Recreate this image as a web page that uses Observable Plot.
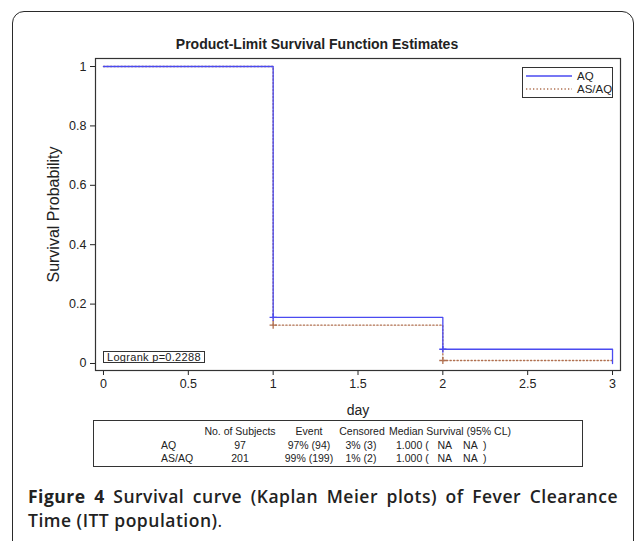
<!DOCTYPE html>
<html>
<head>
<meta charset="utf-8">
<script src="https://cdn.jsdelivr.net/npm/d3@7"></script>
<script src="https://cdn.jsdelivr.net/npm/@observablehq/plot@0.6"></script>
<style>
  html, body { margin: 0; padding: 0; background: #fff; }
  #page { position: relative; width: 634px; height: 541px; overflow: hidden; background: #fff; font-family: "Liberation Sans", Arial, sans-serif; color: #222; }
  #outer { position: absolute; left: 12px; top: 11px; width: 622px; height: 620px; box-sizing: border-box; border: 1.6px solid #2a2a2a; border-radius: 12px; }
  #title { position: absolute; left: 0; top: 36px; width: 634px; text-align: center; font-weight: bold; font-size: 14px; }
  #chart { position: absolute; left: 0; top: 50px; }
  .box { position: absolute; border: 1px solid #333; background: #fff; box-sizing: border-box; font-size: 10.5px; }
  .cell { position: absolute; white-space: pre; font-size: 10.5px; line-height: 12px; }
  #cap1, #cap2 { position: absolute; left: 28px; font-family: "Open Sans", sans-serif; font-size: 17.5px; letter-spacing: 0.5px; line-height: 24px; color: #222; white-space: nowrap; }
  #cap1 { top: 484px; width: 590px; text-align: justify; text-align-last: justify; white-space: normal; }
  #cap2 { top: 508px; }
</style>
</head>
<body>
<div id="page">
  <div id="outer"></div>
  <div id="title"></div>
  <div id="chart"></div>
  <div id="legend" class="box" style="left:522px;top:67px;width:91px;height:31px;"></div>
  <div id="logrank" class="box" style="left:103px;top:351px;width:102px;height:12px;"></div>
  <div id="table" class="box" style="left:93px;top:420px;width:490px;height:47px;"></div>
  <div id="cap1"></div>
  <div id="cap2"></div>
</div>
<script>
// ---- data ----
const titleText = "Product-Limit Survival Function Estimates";
const groups = ["AQ", "AS/AQ"];
const groupColors = ["#4a4af0", "#b07050"];
const days = [0, 1, 2, 3];
const survAQ = [1, 0.155, 0.048, 0];
const survASAQ = [1, 0.129, 0.010, 0.010];
const censorDays = [1, 2];
const censorAQ = [0.155, 0.048];
const censorASAQ = [0.129, 0.010];
const xTicks = [0, 0.5, 1, 1.5, 2, 2.5, 3];
const yTicks = [0, 0.2, 0.4, 0.6, 0.8, 1];
const xLabel = "day";
const yLabel = "Survival Probability";
const logrankText = "Logrank p=0.2288";
const tableHeader = ["No. of Subjects", "Event", "Censored", "Median Survival (95% CL)"];
const tableSubjects = ["97", "201"];
const tableEvent = ["97% (94)", "99% (199)"];
const tableCensored = ["3% (3)", "1% (2)"];
const tableMedian = ["1.000 (   NA    NA  )", "1.000 (   NA    NA  )"];
const captionBold = "Figure 4";
const captionLine1 = "Survival curve (Kaplan Meier plots) of Fever Clearance";
const captionLine2 = "Time (ITT population)";

// ---- build tables ----
const curves = [];
days.forEach((d, i) => curves.push({group: groups[0], day: d, s: survAQ[i]}));
days.forEach((d, i) => curves.push({group: groups[1], day: d, s: survASAQ[i]}));
const censors = [];
censorDays.forEach((d, i) => censors.push({group: groups[0], day: d, s: censorAQ[i]}));
censorDays.forEach((d, i) => censors.push({group: groups[1], day: d, s: censorASAQ[i]}));

const plusSymbol = {
  draw(ctx, size) {
    const h = Math.sqrt(size / Math.PI) * 1.2;
    ctx.moveTo(-h, 0); ctx.lineTo(h, 0);
    ctx.moveTo(0, -h); ctx.lineTo(0, h);
  }
};

const chart = Plot.plot({
  width: 634,
  height: 370,
  marginLeft: 95,
  marginRight: 14,
  marginTop: 8,
  marginBottom: 50,
  style: {fontFamily: "'Liberation Sans', Arial, sans-serif", fontSize: "12.5px", color: "#222", background: "transparent"},
  x: {domain: [-0.047, 3.047], ticks: xTicks, tickFormat: d => String(d), tickSize: 5, tickPadding: 4, label: null},
  y: {domain: [-0.0236, 1.027], ticks: yTicks, tickFormat: d => String(d), tickSize: 5, tickPadding: 4, label: null},
  color: {domain: groups, range: groupColors},
  marks: [
    Plot.line(curves.filter(d => d.group === groups[1]), {x: "day", y: "s", curve: "step-after", stroke: groupColors[1], strokeWidth: 1.3, strokeDasharray: "1.3,2.2"}),
    Plot.line(curves.filter(d => d.group === groups[0]), {x: "day", y: "s", curve: "step-after", stroke: groupColors[0], strokeWidth: 1.3}),
    Plot.dot(censors, {x: "day", y: "s", stroke: "group", symbol: plusSymbol, r: 3, strokeWidth: 1.3, fill: "none"}),
    Plot.frame({stroke: "#333", strokeWidth: 1.2}),
    Plot.text([xLabel], {frameAnchor: "bottom", dy: 40, fontSize: 14, lineAnchor: "middle", textAnchor: "middle", fill: "#222"}),
    Plot.text([yLabel], {frameAnchor: "left", dx: -42, rotate: -90, fontSize: 16, lineAnchor: "middle", textAnchor: "middle", fill: "#222"})
  ]
});
document.getElementById("chart").appendChild(chart);
document.getElementById("title").textContent = titleText;

// legend
const legend = document.getElementById("legend");
groups.forEach((g, i) => {
  const y = 8 + i * 13;
  const svg = document.createElementNS("http://www.w3.org/2000/svg", "svg");
  svg.setAttribute("width", 50); svg.setAttribute("height", 4);
  svg.style.position = "absolute"; svg.style.left = "2px"; svg.style.top = (y - 2) + "px";
  const ln = document.createElementNS("http://www.w3.org/2000/svg", "line");
  ln.setAttribute("x1", 1); ln.setAttribute("x2", 47); ln.setAttribute("y1", 2); ln.setAttribute("y2", 2);
  ln.setAttribute("stroke", groupColors[i]); ln.setAttribute("stroke-width", 1.3);
  if (i === 1) ln.setAttribute("stroke-dasharray", "1.3,2.2");
  svg.appendChild(ln);
  legend.appendChild(svg);
  const t = document.createElement("div");
  t.className = "cell"; t.style.left = "54px"; t.style.top = (y - 6) + "px"; t.style.fontSize = "11.5px";
  t.textContent = g;
  legend.appendChild(t);
});

// logrank
const lr = document.getElementById("logrank");
const lrt = document.createElement("div");
lrt.className = "cell"; lrt.style.left = "3px"; lrt.style.top = "-1px"; lrt.style.fontSize = "11px"; lrt.style.letterSpacing = "0.3px";
lrt.textContent = logrankText;
lr.appendChild(lrt);

// table (positions relative to box at left 93, top 420)
const tbl = document.getElementById("table");
function cell(text, cx, top, align) {
  const c = document.createElement("div");
  c.className = "cell";
  c.textContent = text;
  c.style.top = top + "px";
  if (align === "center") { c.style.left = (cx - 100) + "px"; c.style.width = "200px"; c.style.textAlign = "center"; }
  else c.style.left = cx + "px";
  tbl.appendChild(c);
}
const colCenters = [239 - 93, 308 - 93, 361 - 93];
cell(tableHeader[0], colCenters[0], 4, "center");
cell(tableHeader[1], colCenters[1], 4, "center");
cell(tableHeader[2], colCenters[2], 4, "center");
cell(tableHeader[3], 388 - 93, 4, "left");
groups.forEach((g, i) => {
  const top = 18 + i * 12.5;
  cell(g, 160 - 93, top, "left");
  cell(tableSubjects[i], colCenters[0], top, "center");
  cell(tableEvent[i], colCenters[1], top, "center");
  cell(tableCensored[i], colCenters[2] - 1, top, "center");
  cell(tableMedian[i], 395 - 93, top, "left");
});

// caption
const cap1 = document.getElementById("cap1");
const b = document.createElement("span"); b.style.fontWeight = "700"; b.textContent = captionBold + " ";
const s1 = document.createElement("span"); s1.style.fontWeight = "600"; s1.textContent = captionLine1;
cap1.appendChild(b); cap1.appendChild(s1);
const cap2 = document.getElementById("cap2");
const s2 = document.createElement("span"); s2.style.fontWeight = "600"; s2.textContent = captionLine2;
const p = document.createElement("span"); p.textContent = ".";
cap2.appendChild(s2); cap2.appendChild(p);
</script>
</body>
</html>
